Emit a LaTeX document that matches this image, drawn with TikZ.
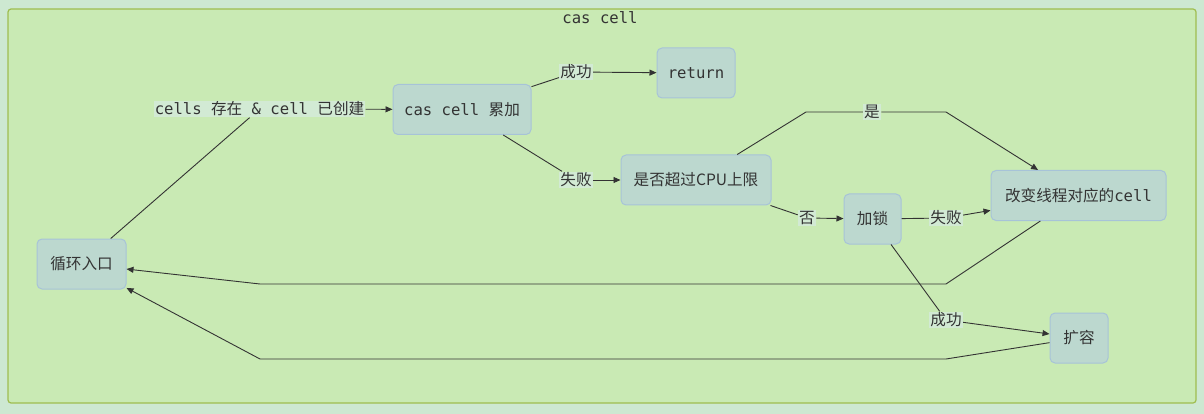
\documentclass[tikz,border=0pt]{standalone}
\usepackage{fontspec}
\setmonofont{DejaVu Sans Mono}
\newfontfamily\zhfont{Noto Sans CJK SC}
\newcommand{\zh}[1]{{\zhfont #1}}
\usetikzlibrary{arrows.meta}
\definecolor{pagebg}{HTML}{CDE8D1}
\definecolor{clusterfill}{HTML}{C9EAB4}
\definecolor{clusterline}{HTML}{9FBD50}
\definecolor{boxfill}{HTML}{BCD8CF}
\definecolor{boxline}{HTML}{A7C3D8}
\definecolor{lblfill}{HTML}{D2EAD4}
\definecolor{textcol}{HTML}{333333}
\tikzset{
  box/.style={draw=boxline, fill=boxfill, rounded corners=5pt, line width=1pt,
    minimum height=50pt, inner sep=0pt, text=textcol},
  lbl/.style={fill=lblfill, inner sep=1pt, text=textcol},
}
\begin{document}
\begin{tikzpicture}[x=1pt, y=-1pt, font=\ttfamily\fontsize{15.6}{18}\selectfont,
    >={Triangle[length=7pt,width=6pt]}, line width=0.9pt, draw=textcol]
    \useasboundingbox (0,0) rectangle (1204,414);
    \fill[pagebg] (0,0) rectangle (1204,414);
    \draw[clusterline, fill=clusterfill, rounded corners=3pt, line width=1.2pt] (8,9) rectangle (1196,403);
    \node[text=textcol] (title) at (600,18) {cas cell};

    \node[box, minimum width=89pt] (loop) at (81.5,264) {\zh{循环入口}};
    \node[lbl] (exist) at (259.5,109) {cells \zh{存在} \& cell \zh{已创建}};
    \node[box, minimum width=138pt] (add) at (462,109.5) {cas cell \zh{累加}};
    \node[lbl] (ok1) at (576,72) {\zh{成功}};
    \node[box, minimum width=78pt] (ret) at (696,73) {return};
    \node[lbl] (fail1) at (576,180) {\zh{失败}};
    \node[box, minimum width=150pt] (cpu) at (696,180) {\zh{是否超过CPU上限}};
    \node[lbl] (yes) at (872,112) {\zh{是}};
    \node[box, minimum width=175pt] (chg) at (1078.5,195.5) {\zh{改变线程对应的}cell};
    \node[lbl] (no) at (807,218) {\zh{否}};
    \node[box, minimum width=57pt] (lock) at (872.5,219) {\zh{加锁}};
    \node[lbl] (fail2) at (946,218) {\zh{失败}};
    \node[lbl] (ok2) at (946,320) {\zh{成功}};
    \node[box, minimum width=58pt] (grow) at (1079,338) {\zh{扩容}};

    \coordinate (y1) at (806,112);
    \coordinate (y2) at (946,112);
    \coordinate (b1) at (946,284);
    \coordinate (b2) at (260,284);
    \coordinate (b3) at (946,359);
    \coordinate (b4) at (260,359);

    \draw (loop) -- (exist);
    \draw[->] (exist) -- (add);
    \draw (add) -- (ok1);
    \draw[->] (ok1) -- (ret);
    \draw (add) -- (fail1);
    \draw[->] (fail1) -- (cpu);
    \draw (cpu) -- (y1) -- (yes);
    \draw[->] (yes) -- (y2) -- (chg);
    \draw (cpu) -- (no);
    \draw[->] (no) -- (lock);
    \draw (lock) -- (fail2);
    \draw[->] (fail2) -- (chg);
    \draw (lock) -- (ok2);
    \draw[->] (ok2) -- (grow);
    \draw[->] (chg) -- (b1) -- (b2) -- (loop);
    \draw[->] (grow) -- (b3) -- (b4) -- (loop);
  \end{tikzpicture}
\end{document}
